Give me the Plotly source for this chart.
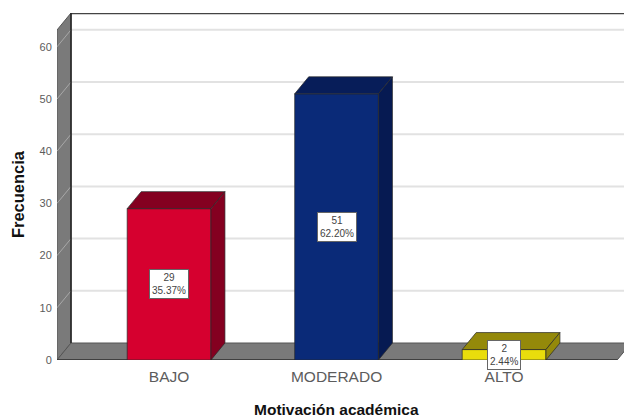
import plotly.graph_objects as go

categories = ["BAJO", "MODERADO", "ALTO"]
counts = [29, 51, 2]
percents = ["35.37%", "62.20%", "2.44%"]
front_colors = ["#d6002f", "#0a2a78", "#e9dd0c"]
top_colors = ["#840020", "#071d59", "#94890a"]
side_colors = ["#840020", "#061a52", "#94890a"]
y_ticks = [0, 10, 20, 30, 40, 50, 60]
x_title = "Motivación académica"
y_title = "Frecuencia"

# layout of the pseudo-3D box, in axis units
DX, DY = 0.0836, 3.257
BAR_W = 0.5
X_MIN, X_MAX = -0.669, 2.716
Y_MAX = 66.48
FLOOR_END = 2.675
WALL = "#7a7a7a"
EDGE = "#2a2a2a"
xs = list(range(len(categories)))


def poly(pts, fill, line=EDGE, width=1):
    path = "M " + " L ".join(f"{x},{y}" for x, y in pts) + " Z"
    return dict(type="path", path=path, xref="x", yref="y", fillcolor=fill,
                line=dict(color=line, width=width), layer="below")


shapes = []
for t in y_ticks[1:]:
    shapes.append(dict(type="line", xref="x", yref="y", layer="below",
                       x0=X_MIN + DX, x1=X_MAX, y0=t + DY, y1=t + DY,
                       line=dict(color="#e2e2e2", width=2)))
top_front = Y_MAX - DY
shapes.append(poly([(X_MIN, 0), (X_MIN, top_front), (X_MIN + DX, Y_MAX), (X_MIN + DX, DY)], WALL, "#555555"))
shapes.append(poly([(X_MIN, 0), (FLOOR_END, 0), (FLOOR_END + DX, DY), (X_MIN + DX, DY)], WALL, "#555555"))
for t in y_ticks[1:]:
    shapes.append(dict(type="line", xref="x", yref="y", layer="below",
                       x0=X_MIN, x1=X_MIN + DX, y0=t, y1=t + DY,
                       line=dict(color="#a8a8a8", width=1)))
shapes.append(dict(type="line", xref="x", yref="y", layer="below",
                   x0=X_MIN + DX, x1=X_MAX, y0=Y_MAX - 0.1, y1=Y_MAX - 0.1,
                   line=dict(color="#444444", width=1.5)))
shapes.append(dict(type="line", xref="x", yref="y", layer="below",
                   x0=X_MIN + DX, x1=X_MIN + DX, y0=DY, y1=Y_MAX,
                   line=dict(color="#222222", width=1.5)))
shapes.append(dict(type="line", xref="x", yref="y", layer="below",
                   x0=X_MIN, x1=FLOOR_END, y0=0, y1=0,
                   line=dict(color="#333333", width=1.5)))

fig = go.Figure()
fig.add_trace(go.Bar(x=xs, y=counts, width=BAR_W, marker=dict(color=front_colors, line=dict(color=EDGE, width=0.7)),
                     showlegend=False, hoverinfo="skip"))

for x, v, tc, sc in zip(xs, counts, top_colors, side_colors):
    l, r = x - BAR_W / 2, x + BAR_W / 2
    fig.add_trace(go.Scatter(x=[l, r, r + DX, l + DX, l], y=[v, v, v + DY, v + DY, v],
                             mode="lines", fill="toself", fillcolor=tc,
                             line=dict(color=EDGE, width=0.7), showlegend=False, hoverinfo="skip"))
    fig.add_trace(go.Scatter(x=[r, r + DX, r + DX, r, r], y=[0, DY, v + DY, v, 0],
                             mode="lines", fill="toself", fillcolor=sc,
                             line=dict(color=EDGE, width=0.7), showlegend=False, hoverinfo="skip"))

annotations = []
for x, v, p in zip(xs, counts, percents):
    annotations.append(dict(x=x, y=v / 2, xref="x", yref="y", text=f"{v}<br>{p}", showarrow=False,
                            font=dict(family="Liberation Sans", size=10, color="#444444"),
                            bgcolor="white", bordercolor="#666666", borderwidth=1, borderpad=2,
                            align="center"))
annotations.append(dict(x=0.493, xref="paper", y=-0.144, yref="paper", text=x_title, showarrow=False,
                        xanchor="center", yanchor="middle",
                        font=dict(family="Liberation Sans", size=15.5, color="#111111", weight="bold")))
annotations.append(dict(x=-0.0688, xref="paper", y=0.478, yref="paper", text=y_title, textangle=-90,
                        showarrow=False, xanchor="center", yanchor="middle",
                        font=dict(family="Liberation Sans", size=16.5, color="#111111", weight="bold")))

fig.update_layout(
    width=624, height=419, autosize=False,
    margin=dict(l=57, r=0, t=13, b=59),
    paper_bgcolor="white", plot_bgcolor="white",
    shapes=shapes, annotations=annotations, hovermode=False,
    xaxis=dict(range=[X_MIN, X_MAX], tickmode="array", tickvals=xs, ticktext=categories,
               showgrid=False, zeroline=False, showline=False, ticks="outside", ticklen=2,
               tickcolor="rgba(0,0,0,0)", automargin=False,
               tickfont=dict(family="Liberation Sans", size=15.5, color="#5c5c5c")),
    yaxis=dict(range=[0, Y_MAX], tickmode="array", tickvals=y_ticks,
               showgrid=False, zeroline=False, showline=False, ticks="outside", ticklen=2,
               tickcolor="rgba(0,0,0,0)", automargin=False,
               tickfont=dict(family="Liberation Sans", size=11, color="#5c5c5c")),
)
fig.write_html("out.html", config={"displayModeBar": False},
               post_script="document.body.style.margin='0';document.documentElement.style.overflow='hidden';")
